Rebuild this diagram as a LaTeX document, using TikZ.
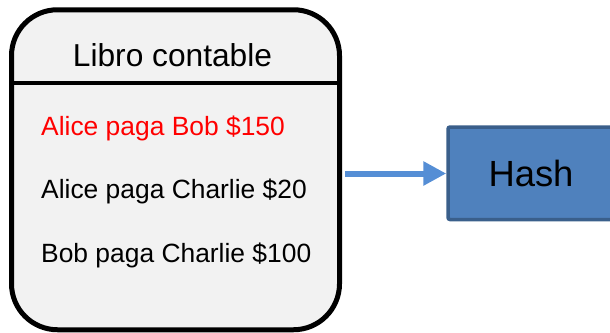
\documentclass[tikz,border=0pt]{standalone}
\usepackage{fontspec}
\setmainfont{Liberation Sans}
\usetikzlibrary{arrows.meta}
\definecolor{ledgerfill}{HTML}{F2F2F2}
\definecolor{hashfill}{HTML}{4F81BD}
\definecolor{hashline}{HTML}{3A5F8B}
\definecolor{flowblue}{HTML}{558ED5}
\tikzset{
  ledger/.style={draw=black, line width=5pt, fill=ledgerfill, rounded corners=46pt,
    minimum width=328pt, minimum height=320pt, inner sep=0pt},
  entry/.style={anchor=base west, inner sep=0pt, font=\fontsize{26.4}{30}\selectfont},
  title/.style={anchor=base, inner sep=0pt, font=\fontsize{31.7}{36}\selectfont},
  hashbox/.style={draw=hashline, line width=3.5pt, fill=hashfill, rounded corners=2pt,
    minimum width=166pt, minimum height=92.5pt, inner sep=0pt,
    font=\fontsize{36.4}{40}\selectfont},
  flow/.style={draw=flowblue, line width=6pt,
    -{Triangle[length=23pt, width=23pt]}}
}
\begin{document}
\begin{tikzpicture}[x=1pt, y=-1pt]
  \useasboundingbox (0,0) rectangle (610,332);
  \clip (0,0) rectangle (610,332);
  % ledger card
  \node[ledger] (ledger) at (175.5,169.75) {};
  \coordinate (divL) at (11.5,83);
  \coordinate (divR) at (339.5,83);
  \draw[line width=3.5pt] (divL) -- (divR);
  \node[title] (head) at (172.5,66) {Libro contable};
  \node[entry, text=red] (tx1) at (41,135) {Alice paga Bob \$150};
  \node[entry] (tx2) at (41,198) {Alice paga Charlie \$20};
  \node[entry] (tx3) at (41,262) {Bob paga Charlie \$100};
  % hash function box
  \node[hashbox] (hash) at (531,173.25) {\raisebox{-2pt}{Hash}};
  % flow into the hash
  \coordinate (src) at (345,173.5);
  \draw[flow] (src) -- (hash.west |- src);
\end{tikzpicture}
\end{document}
